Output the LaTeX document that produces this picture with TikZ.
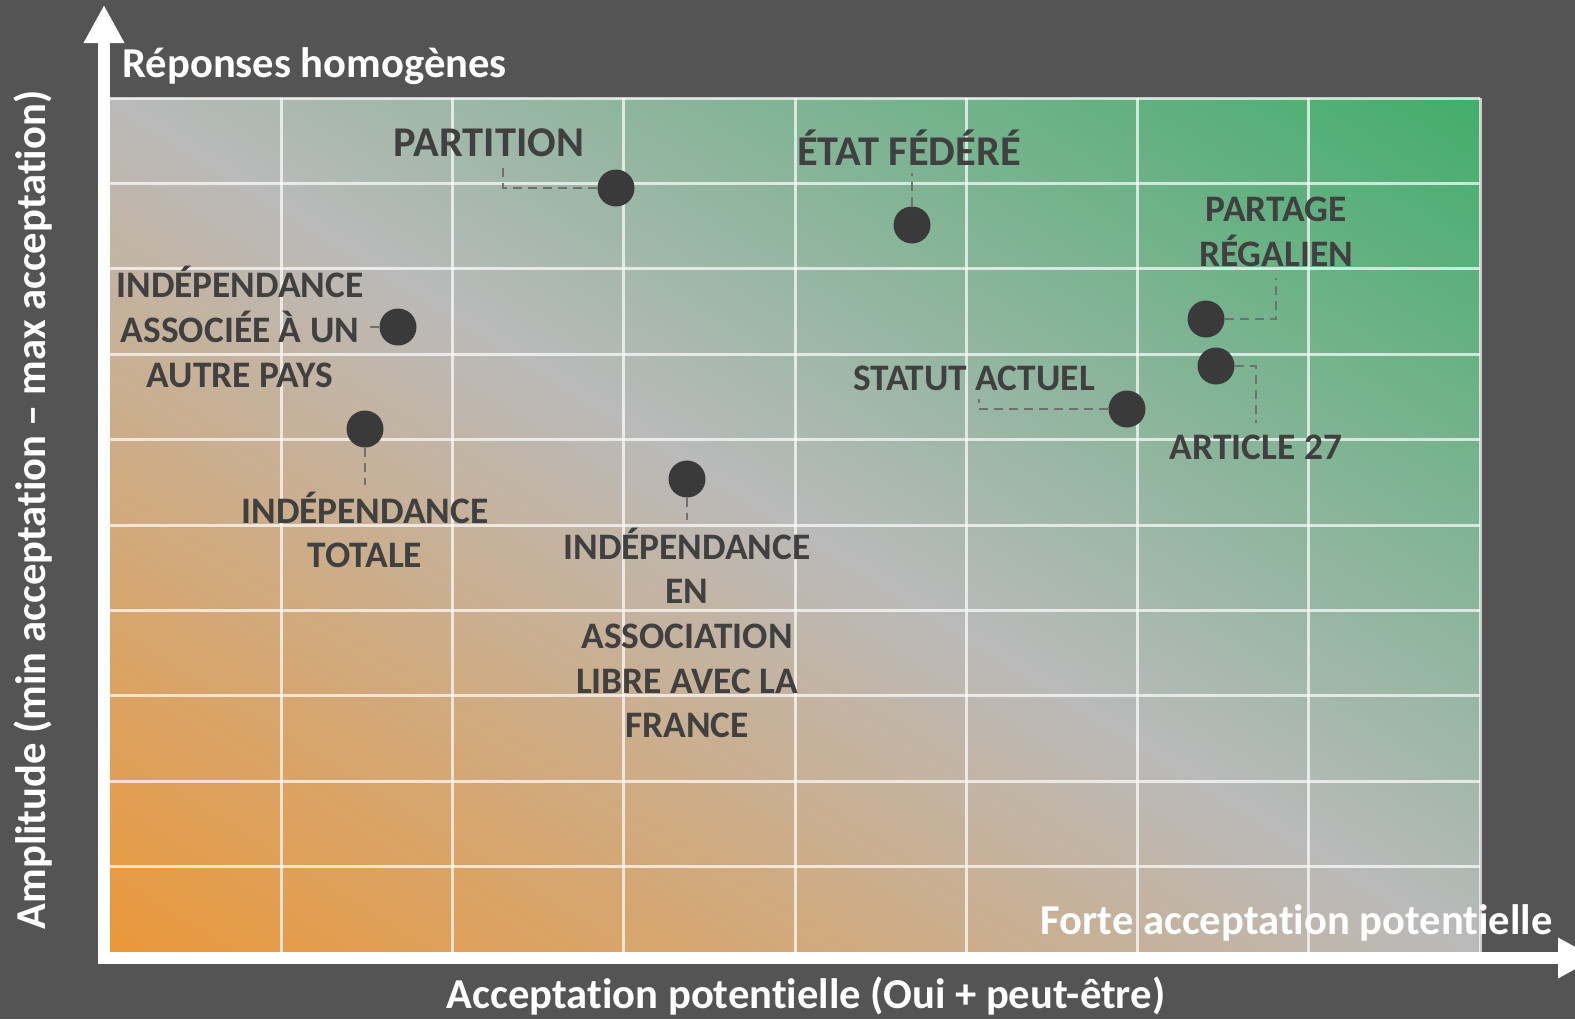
\documentclass[tikz,border=0pt]{standalone}
\usepackage{fontspec}
\setmainfont{Carlito}[Ligatures={NoCommon}]
\usetikzlibrary{arrows.meta}
\definecolor{fond}{RGB}{84,84,84}
\definecolor{orangecoin}{RGB}{240,148,45}
\definecolor{griscentre}{RGB}{186,186,186}
\definecolor{vertcoin}{RGB}{55,172,100}
\definecolor{textegris}{RGB}{64,64,64}
\definecolor{pointgris}{RGB}{58,58,58}
\definecolor{traitgris}{RGB}{112,112,112}
\pgfdeclareverticalshading{diagonale}{100bp}{color(0bp)=(orangecoin); color(12bp)=(orangecoin); color(50bp)=(griscentre); color(88bp)=(vertcoin); color(100bp)=(vertcoin)}
\tikzset{
  etiquette/.style={font=\bfseries\fontsize{18.7}{22.3}\selectfont, text=textegris, align=center, inner sep=0pt},
  grande/.style={font=\bfseries\fontsize{21.2}{24}\selectfont},
  point/.style={circle, fill=pointgris, minimum size=18.5pt, inner sep=0pt},
  repere/.style={traitgris, line width=1pt, dash pattern=on 4.5pt off 3pt},
  axe/.style={white, line width=6pt, -{Triangle[width=19pt,length=19pt]}},
  titreaxe/.style={font=\bfseries\fontsize{21.3}{24}\selectfont, text=white, inner sep=0pt},
}
\begin{document}
\begin{tikzpicture}[x=0.5pt,y=-0.5pt] %Début du dessin, une unité = un pixel
	\useasboundingbox (0,0) rectangle (1575,1019);
	\fill[fond] (0,0) rectangle (1575,1019); %Fond
		%Zone du graphique
	\shade[shading=diagonale, shading angle=-32] (110,98) rectangle (1480,952);
	\foreach \i in {1,...,8} \draw[white, opacity=0.7, line width=1.5pt] (110+171.25*\i,98) -- (110+171.25*\i,952); %Colonnes
	\foreach \j in {0,...,9} \draw[white, opacity=0.7, line width=1.5pt] (110,98+85.4*\j) -- (1480,98+85.4*\j); %Lignes
		%Axes
	\draw[axe] (104,964) -- (104,5); %Axe vertical
	\draw[axe] (98,958) -- (1596,958); %Axe horizontal
	\node[titreaxe, anchor=west] (haut) at (122,66) {Réponses homogènes};
	\node[titreaxe, anchor=east] (droite) at (1553,923) {Forte acceptation potentielle};
	\node[titreaxe] (abscisse) at (806,996) {Acceptation potentielle (Oui + peut-être)};
	\node[titreaxe, rotate=90] (ordonnee) at (33,510) {Amplitude (min acceptation – max acceptation)};
		%Points
	\node[point] (p-partition) at (616,188) {};
	\node[point] (p-etat) at (912,225) {};
	\node[point] (p-partage) at (1206,319) {};
	\node[point] (p-article) at (1216,366) {};
	\node[point] (p-statut) at (1127,409) {};
	\node[point] (p-indasso) at (398,327) {};
	\node[point] (p-indtot) at (365,429) {};
	\node[point] (p-indlibre) at (687,479) {};
		%Etiquettes
	\node[etiquette, grande] (partition) at (489,143) {PARTITION};
	\node[etiquette, grande] (etat) at (909,148) {ÉTAT FÉDÉRÉ};
	\node[etiquette] (partage) at (1276,232) {PARTAGE\\RÉGALIEN};
	\node[etiquette] (article) at (1256,447) {ARTICLE 27};
	\node[etiquette] (statut) at (974,378) {STATUT ACTUEL};
	\node[etiquette] (indasso) at (240,327) {INDÉPENDANCE\\ASSOCIÉE À UN\\AUTRE PAYS};
	\node[etiquette] (indtot) at (365,530) {INDÉPENDANCE\\TOTALE};
	\node[etiquette] (indlibre) at (687,633) {INDÉPENDANCE\\EN\\ASSOCIATION\\LIBRE AVEC LA\\FRANCE};
		%Repères
	\coordinate (b-partition) at (503,168);
	\coordinate (b-etat) at (912,173);
	\coordinate (b-partage) at (1276,278);
	\coordinate (b-article) at (1256,423);
	\coordinate (b-statut) at (979,399);
	\coordinate (b-indasso) at (367,327);
	\coordinate (b-indtot) at (365,485);
	\coordinate (b-indlibre) at (687,520);
	\draw[repere] (p-partition.west) -- (p-partition.west -| b-partition) -- (b-partition);
	\draw[repere] (p-etat.north) -- (b-etat);
	\draw[repere] (p-partage.east) -- (p-partage.east -| b-partage) -- (b-partage);
	\draw[repere] (p-article.east) -- (p-article.east -| b-article) -- (b-article);
	\draw[repere] (p-statut.west) -- (p-statut.west -| b-statut) -- (b-statut);
	\draw[repere] (p-indasso.west) -- (b-indasso);
	\draw[repere] (p-indtot.south) -- (b-indtot);
	\draw[repere] (p-indlibre.south) -- (b-indlibre);
\end{tikzpicture}
\end{document}
